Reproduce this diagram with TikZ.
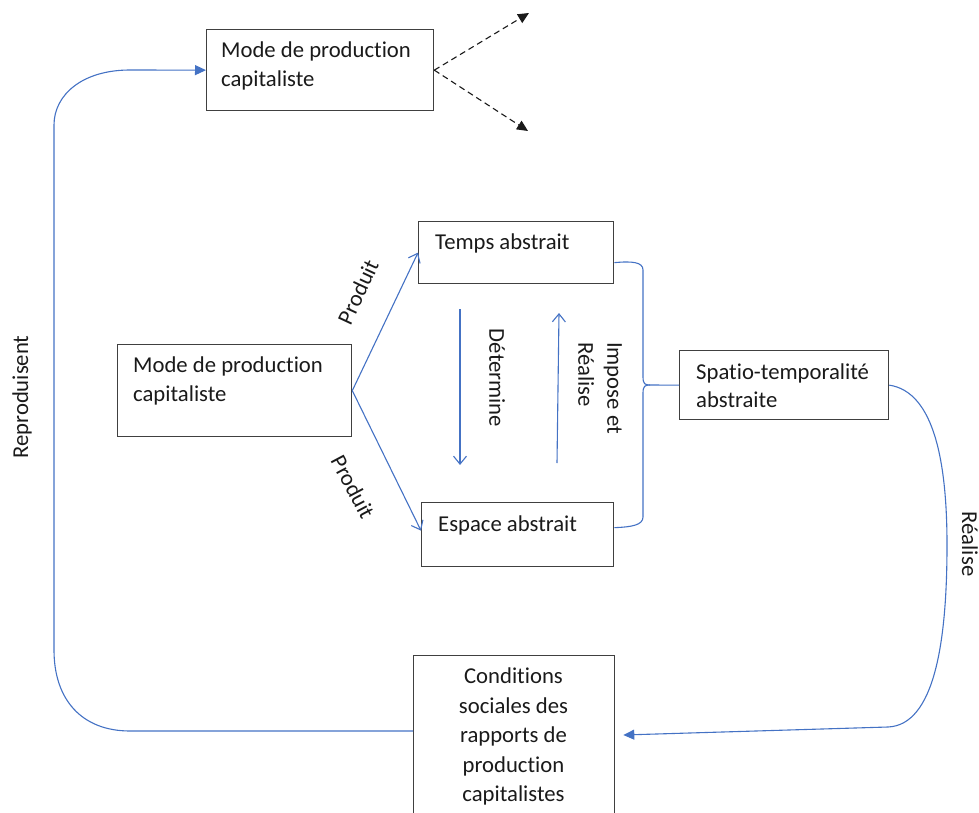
\documentclass[tikz,border=0pt]{standalone}
\usepackage{fontspec}
\setmainfont{Carlito}[Ligatures={NoCommon}]
\usetikzlibrary{arrows.meta}
\definecolor{lnblue}{HTML}{4472C4}
\definecolor{boxline}{HTML}{404040}
\definecolor{txtcol}{HTML}{1A1A1A}
\begin{document}
\begin{tikzpicture}[x=1pt,y=-1pt,
  font=\fontsize{22.7}{29}\selectfont, text=txtcol,
  box/.style={draw=boxline, line width=1.3pt, inner sep=0pt, anchor=north west},
  txt/.style={inner sep=0pt, align=left},
  lbl/.style={inner sep=0pt},
  blueline/.style={draw=lnblue, line width=1.1pt},
  bluearrow/.style={blueline, -{Straight Barb[length=8pt,width=13pt]}},
  bluefill/.style={blueline, -{Triangle[length=11pt,width=10pt]}},
  dasharrow/.style={draw=txtcol, line width=1.1pt, dash pattern=on 6pt off 4pt, -{Triangle[length=11pt,width=10pt]}}
]
\useasboundingbox (0,0) rectangle (979,813);
\clip (0,0) rectangle (979,813);

% boxes
\node[box, minimum width=227pt, minimum height=81pt] (top) at (206,29) {};
\node[box, minimum width=234pt, minimum height=92pt] (mid) at (117,344) {};
\node[box, minimum width=195pt, minimum height=62pt] (temps) at (418,221) {};
\node[box, minimum width=192pt, minimum height=64pt] (espace) at (421,502) {};
\node[box, minimum width=209pt, minimum height=69pt] (spatio) at (679,350) {};
\node[box, minimum width=201pt, minimum height=200pt] (bottom) at (413,655) {};

% box texts
\node[txt, anchor=north west] (ttop) at (221,42) {Mode de production\\capitaliste};
\node[txt, anchor=north west] (tmid) at (133,357) {Mode de production\\capitaliste};
\node[txt, anchor=base west] (ttemps) at (435,249) {Temps abstrait};
\node[txt, anchor=base west] (tesp) at (438,531) {Espace abstrait};
\node[txt, anchor=north west, font=\fontsize{22.7}{28}\selectfont] (tspa) at (696,364) {Spatio-temporalité\\abstraite};
\node[txt, align=center, anchor=north, font=\fontsize{22.7}{29.5}\selectfont] (tbot) at (513.5,668) {Conditions\\sociales des\\rapports de\\production\\capitalistes};

% free ends
\coordinate (d1) at (529,13);
\coordinate (d2) at (528,131);
\coordinate (dA) at (460,309);
\coordinate (dB) at (460,465);
\coordinate (iA) at (557,463);
\coordinate (iB) at (559,313);
\coordinate (cusp) at (650,385);

% dashed arrows
\draw[dasharrow] (top.east) -- (d1);
\draw[dasharrow] (top.east) -- (d2);

% produit arrows
\draw[bluearrow] (mid.east) -- (temps.west);
\draw[bluearrow] (mid.east) -- ([yshift=4pt]espace.west);

% vertical arrows
\draw[bluearrow] (dA) -- (dB);
\draw[bluearrow] (iA) -- (iB);

% brace
\draw[blueline] ([yshift=-10pt]temps.east) .. controls (632,261) and (643,262) .. (643,270)
  -- (643,377) .. controls (643,384) and (645,385) .. (cusp) -- (spatio.west);
\draw[blueline] (cusp) .. controls (645,385) and (643,386) .. (643,393)
  -- (643,517) .. controls (643,525) and (632,527) .. ([yshift=7pt]espace.east);

% realise curve
\draw[bluefill] (spatio.east) .. controls (935,392) and (947,465) .. (947,545)
  .. controls (947,640) and (935,725) .. (888,727) -- ([xshift=8pt,yshift=-80pt]bottom.north east);

% reproduisent loop
\draw[bluefill] ([yshift=-76pt]bottom.north west) -- (130,731)
  .. controls (82,731) and (54,700) .. (54,650) -- (54,125)
  .. controls (54,95) and (82,70) .. (130,70) -- (top.west);

% labels
\node[lbl, rotate=90] (lrep) at (22,397) {Reproduisent};
\node[lbl, rotate=65] (lp1) at (358,292) {Produit};
\node[lbl, rotate=-62] (lp2) at (353,487) {Produit};
\node[lbl, rotate=-90] (ldet) at (497,378) {Détermine};
\node[lbl, rotate=-90, align=left] (limp) at (600,388) {Impose et\\Réalise};
\node[lbl, rotate=-90] (lrea) at (970,544) {Réalise};
\end{tikzpicture}
\end{document}
